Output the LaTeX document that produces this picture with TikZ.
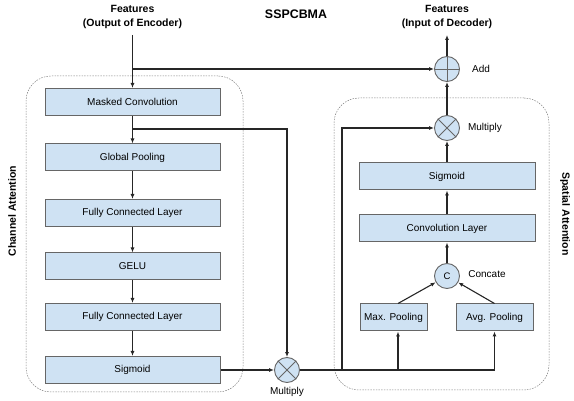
\documentclass[tikz,border=0pt]{standalone}
\usepackage{fontspec}
\setmainfont{Liberation Sans}
\usetikzlibrary{arrows.meta,calc}
\definecolor{boxfill}{HTML}{CFE2F3}
\definecolor{boxline}{HTML}{666666}
\definecolor{connline}{HTML}{262626}
\begin{document}
\begin{tikzpicture}[x=1pt,y=-1pt,
  layer/.style={draw=boxline, line width=1pt, fill=boxfill, minimum height=27pt, inner sep=0pt, font=\fontsize{10}{12}\selectfont},
  op/.style={circle, draw=boxline, line width=0.9pt, fill=boxfill, minimum size=25pt, inner sep=0pt, font=\fontsize{9.5}{11}\selectfont},
  conn/.style={line width=1.1pt, draw=connline},
  arr/.style={conn, -{Latex[length=5pt,width=4pt]}},
  region/.style={draw=gray, dash pattern=on 1.5pt off 1.2pt, line width=0.5pt, rounded corners=25pt, inner sep=0pt},
  sym/.style={draw=boxline, line width=0.8pt},
  lbl/.style={font=\fontsize{10}{12}\selectfont},
  ttl/.style={font=\bfseries\fontsize{10.5}{14}\selectfont, align=center}]
\useasboundingbox (0,0) rectangle (574,401);

% titles
\node[ttl] (fin) at (132.5,17) {Features\\(Output of Encoder)};
\node[font=\bfseries\fontsize{12.4}{14}\selectfont] (title) at (296,14) {SSPCBMA};
\node[ttl] (fout) at (447,17) {Features\\(Input of Decoder)};
\coordinate (inp) at (132.5,35);
\coordinate (outp) at (447,35);

% regions
\node[region, minimum width=217pt, minimum height=316pt] (chreg) at (134.5,234) {};
\node[region, minimum width=215pt, minimum height=292pt] (spreg) at (441.5,244) {};
\node[ttl, rotate=90] (chl) at (12,211) {Channel Attention};
\node[ttl, rotate=-90] (spl) at (565,214) {Spatial Attention};

% channel attention
\node[layer, minimum width=175pt] (mc) at (132.5,102) {Masked Convolution};
\node[layer, minimum width=175pt] (gp) at (132.5,157.5) {Global Pooling};
\node[layer, minimum width=175pt] (fc1) at (132.5,213) {Fully Connected Layer};
\node[layer, minimum width=175pt] (gelu) at (132.5,266.5) {GELU};
\node[layer, minimum width=175pt] (fc2) at (132.5,317) {Fully Connected Layer};
\node[layer, minimum width=175pt] (sig) at (132.5,370) {Sigmoid};

% spatial attention
\node[layer, minimum width=176pt] (rsig) at (447,176.5) {Sigmoid};
\node[layer, minimum width=176pt] (conv) at (447,228.5) {Convolution Layer};
\node[op] (cc) at (447,276) {C};
\node[layer, minimum width=67pt] (maxp) at (393.5,317.5) {Max. Pooling};
\node[layer, minimum width=77pt] (avgp) at (494.5,317.5) {Avg. Pooling};

% operators
\node[op] (add) at (447,69) {};
\node[op] (mul2) at (447,128) {};
\node[op] (mul1) at (287,370) {};
\draw[sym] (add.north) -- (add.south) (add.west) -- (add.east);
\draw[sym] (mul2.north west) -- (mul2.south east) (mul2.north east) -- (mul2.south west);
\draw[sym] (mul1.north west) -- (mul1.south east) (mul1.north east) -- (mul1.south west);

\node[lbl] (addl) at (481,69) {Add};
\node[lbl] (mull2) at (485,128) {Multiply};
\node[lbl] (concl) at (487,274) {Concate};
\node[lbl] (mull1) at (287,392) {Multiply};

% connectors
\draw[arr] (inp) -- (mc);
\draw[arr] (inp |- add) -- (add);
\draw[arr] (mc) -- (gp);
\draw[arr] (gp) -- (fc1);
\draw[arr] (fc1) -- (gelu);
\draw[arr] (gelu) -- (fc2);
\draw[arr] (fc2) -- (sig);
\coordinate (br1) at (132.5,129);
\draw[arr] (br1) -| (mul1);
\draw[arr] (sig) -- (mul1);

\coordinate (jA) at (342,370);
\coordinate (jM) at (398,370);
\coordinate (jV) at (494.5,370);
\draw[conn] (mul1) -- (jV);
\draw[arr] (jV) -- (avgp);
\draw[arr] (jM) -- (jM |- maxp.south);
\draw[arr] (jA) |- (mul2);
\draw[arr] (jM |- maxp.north) -- (cc);
\draw[arr] (avgp.north) -- (cc);
\draw[arr] (cc) -- (conv);
\draw[arr] (conv) -- (rsig);
\draw[arr] (rsig) -- (mul2);
\draw[arr] (mul2) -- (add);
\draw[arr] (add) -- (outp);
\end{tikzpicture}
\end{document}
